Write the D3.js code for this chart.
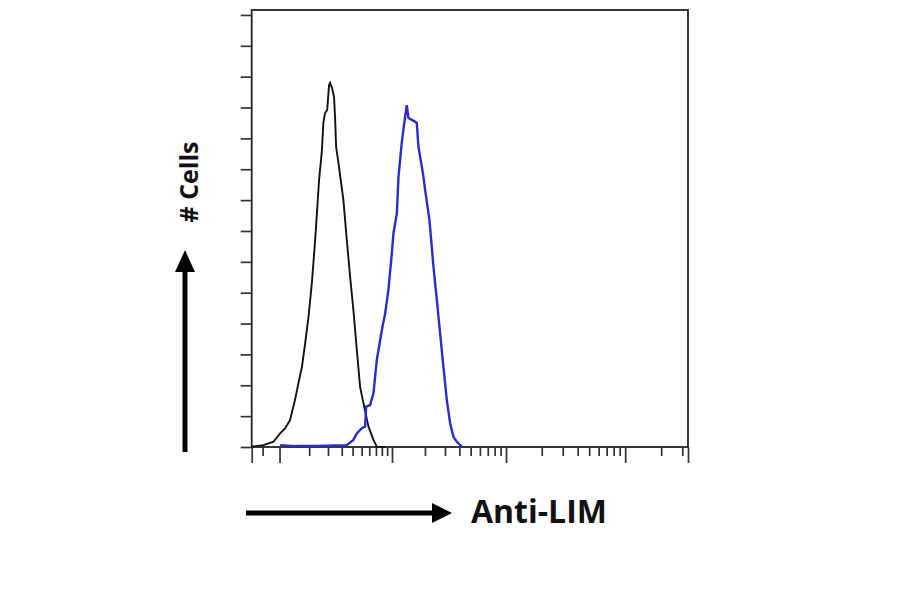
<!DOCTYPE html>
<html>
<head>
<meta charset="utf-8">
<script src="https://cdn.jsdelivr.net/npm/d3@7"></script>
<style>
  body { margin: 0; background: #fff; }
  svg { display: block; }
</style>
</head>
<body>
<svg width="900" height="594"></svg>
<script>
// histogram values: [intensity, count]
const isotype = [
  [-92, 0.01], [-47, 0.06], [-16, 0.17], [1.5, 0.44], [15, 0.61], [29, 0.87],
  [45, 1.52], [57, 2.07], [70, 2.6], [83, 3.37], [97, 4.22], [112, 5.31],
  [128, 6.71], [139, 7.79], [148, 8.65], [163, 9.56], [172, 10.5], [182, 10.82],
  [195, 10.92], [207, 11.73], [214, 11.8], [227, 11.63], [241, 11.34], [249, 10.6],
  [256, 9.72], [274, 9.2], [314, 8.0], [344, 6.71], [375, 5.52], [408, 4.44],
  [445, 3.14], [482, 1.95], [522, 1.43], [589, 0.66], [661, 0.23], [714, 0.01],
  [860, 0]
];

const antiLim = [
  [1.5, 0.06], [51, 0.03], [136, 0.03], [344, 0.06], [408, 0.23], [445, 0.44],
  [503, 0.61], [544, 0.66], [557, 1.31], [612, 1.36], [661, 1.74], [714, 2.82],
  [800, 3.79], [861, 4.33], [925, 5.09], [997, 6.28], [1032, 6.92], [1111, 7.57],
  [1150, 8.74], [1236, 9.89], [1325, 10.7], [1373, 11.08], [1421, 10.66], [1525, 10.6],
  [1599, 10.56], [1690, 10.5], [1749, 9.73], [1877, 9.08], [1938, 8.76], [2007, 8.33],
  [2192, 7.36], [2379, 5.84], [2548, 4.76], [2721, 3.68], [2909, 2.6], [3114, 1.52],
  [3328, 0.77], [3553, 0.33], [3804, 0.17], [4199, 0.01]
];

const xMajor = [-92, 0, 1e3, 1e4, 1e5, 335000];
const xMinor = [-50, 100, 200, 300, 400, 500, 600, 700, 800, 900,
  2e3, 3e3, 4e3, 5e3, 6e3, 7e3, 8e3, 9e3,
  2e4, 3e4, 4e4, 5e4, 6e4, 7e4, 8e4, 9e4,
  2e5, 3e5];
const yTicks = d3.range(0, 15);

const svg = d3.select('svg');

const x = d3.scaleSymlog()
  .constant(130)
  .domain([-92, 335000])
  .range([251.7, 688]);

const y = d3.scaleLinear()
  .domain([0, 14.16])
  .range([447, 10]);

// frame
svg.append('rect')
  .attr('x', x.range()[0])
  .attr('y', y.range()[1])
  .attr('width', x.range()[1] - x.range()[0])
  .attr('height', y.range()[0] - y.range()[1])
  .attr('fill', 'none')
  .attr('stroke', '#222')
  .attr('stroke-width', 1.8);

svg.append('g')
  .attr('transform', `translate(0,${y(0)})`)
  .call(d3.axisBottom(x).tickValues(xMinor).tickFormat('').tickSize(9).tickSizeOuter(0));

svg.append('g')
  .attr('transform', `translate(0,${y(0)})`)
  .call(d3.axisBottom(x).tickValues(xMajor).tickFormat('').tickSize(16).tickSizeOuter(0));

svg.append('g')
  .attr('transform', `translate(${x.range()[0]},0)`)
  .call(d3.axisLeft(y).tickValues(yTicks).tickFormat('').tickSize(11).tickSizeOuter(0));

svg.selectAll('.domain').remove();
svg.selectAll('.tick line')
  .attr('stroke', '#333')
  .attr('stroke-width', 1.7);

const line = d3.line()
  .x(d => x(d[0]))
  .y(d => y(d[1]));

svg.append('path')
  .datum(isotype)
  .attr('d', line)
  .attr('fill', 'none')
  .attr('stroke', '#111')
  .attr('stroke-width', 1.9);

svg.append('path')
  .datum(antiLim)
  .attr('d', line)
  .attr('fill', 'none')
  .attr('stroke', '#2a2ad0')
  .attr('stroke-width', 2.4);

// x axis arrow + label
svg.append('line')
  .attr('x1', 246).attr('y1', 513)
  .attr('x2', 436).attr('y2', 513)
  .attr('stroke', '#000')
  .attr('stroke-width', 5);
svg.append('polygon')
  .attr('points', '452,513 432,503 432,523')
  .attr('fill', '#000');
svg.append('text')
  .attr('x', 471)
  .attr('y', 523)
  .attr('font-family', 'Open Sans, sans-serif')
  .attr('font-weight', 'bold')
  .attr('font-size', 32)
  .attr('fill', '#111')
  .text('Anti-LIM');

// y axis arrow + label
svg.append('line')
  .attr('x1', 185).attr('y1', 452)
  .attr('x2', 185).attr('y2', 268)
  .attr('stroke', '#000')
  .attr('stroke-width', 5);
svg.append('polygon')
  .attr('points', '185,250 175,272 195,272')
  .attr('fill', '#000');
svg.append('text')
  .attr('transform', 'translate(198,182) rotate(-90)')
  .attr('text-anchor', 'middle')
  .attr('font-family', 'Open Sans, sans-serif')
  .attr('font-weight', 'bold')
  .attr('font-size', 25)
  .attr('fill', '#111')
  .text('# Cells');
</script>
</body>
</html>
